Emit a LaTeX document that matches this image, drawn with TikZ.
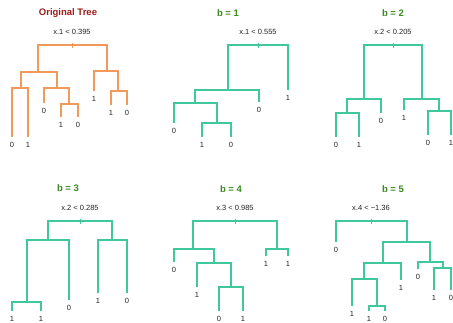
\documentclass[tikz,border=0pt]{standalone}
\usepackage{fontspec}
\setmainfont{Liberation Sans}
\usepackage{tikz}
\usetikzlibrary{positioning}
\definecolor{TreeOrange}{HTML}{F39A5A}
\definecolor{TreeGreen}{HTML}{3FC79E}
\definecolor{TitleRed}{HTML}{9E1B1B}
\definecolor{TitleGreen}{HTML}{3A8C1E}
\definecolor{LabelGray}{HTML}{222222}

\begin{document}
\begin{tikzpicture}[x=1pt, y=-1pt,
  branch/.style={line width=1.2pt, color=TreeGreen},
  orig/.style={branch, color=TreeOrange},
  title/.style={font=\fontsize{9.5}{11}\selectfont\bfseries, text=TitleGreen},
  split/.style={font=\fontsize{7.5}{9}\selectfont, text=LabelGray, inner sep=1pt},
  leaf/.style={font=\fontsize{7.5}{9}\selectfont, text=LabelGray,
               inner xsep=1pt, inner ysep=5pt},
  tick/.style={line width=0.8pt}
]
  \useasboundingbox (0,0) rectangle (453,323);

  % original tree
  \node[title, text=TitleRed] (t0) at (68,13) {Original Tree};
  \coordinate (o)    at (72,45);
  \coordinate (oL)   at (38,72);
  \coordinate (oR)   at (107,71);
  \coordinate (oLL)  at (21,88);
  \coordinate (oLR)  at (57,88);
  \coordinate (oLRR) at (69,104);
  \coordinate (oRR)  at (118,91);
  \node[leaf] (o1) at (12,145) {0};
  \node[leaf] (o2) at (28,145) {1};
  \node[leaf] (o3) at (44,111) {0};
  \node[leaf] (o4) at (61,125) {1};
  \node[leaf] (o5) at (78,125) {0};
  \node[leaf] (o6) at (94,99)  {1};
  \node[leaf] (o7) at (111,113) {1};
  \node[leaf] (o8) at (127,113) {0};
  \node[split, above=9pt of o] (s0) {x.1 < 0.395};
  \draw[orig] (oL) |- (o) -| (oR);
  \draw[orig] (oLL) |- (oL) -| (oLR);
  \draw[orig] (o1) |- (oLL) -| (o2);
  \draw[orig] (o3) |- (oLR) -| (oLRR);
  \draw[orig] (o4) |- (oLRR) -| (o5);
  \draw[orig] (o6) |- (oR) -| (oRR);
  \draw[orig] (o7) |- (oRR) -| (o8);
  \draw[orig, tick] (o) ++(0,-2) -- ++(0,5);

  % b = 1
  \node[title] (t1) at (228,13) {b = 1};
  \coordinate (a)    at (258,45);
  \coordinate (aL)   at (228,90);
  \coordinate (aLL)  at (195,103);
  \coordinate (aLLR) at (217,123);
  \node[leaf] (a1) at (174,131) {0};
  \node[leaf] (a2) at (202,145) {1};
  \node[leaf] (a3) at (231,145) {0};
  \node[leaf] (a4) at (259,110) {0};
  \node[leaf] (a5) at (288,98)  {1};
  \node[split, above=9pt of a] (s1) {x.1 < 0.555};
  \draw[branch] (aL) |- (a) -| (a5);
  \draw[branch] (aLL) |- (aL) -| (a4);
  \draw[branch] (a1) |- (aLL) -| (aLLR);
  \draw[branch] (a2) |- (aLLR) -| (a3);
  \draw[branch, tick] (a) ++(0,-2) -- ++(0,5);

  % b = 2
  \node[title] (t2) at (393,13) {b = 2};
  \coordinate (b)    at (393,45);
  \coordinate (bL)   at (364,99);
  \coordinate (bR)   at (422,99);
  \coordinate (bLL)  at (347,113);
  \coordinate (bRR)  at (439,111);
  \node[leaf] (b1) at (336,145) {0};
  \node[leaf] (b2) at (359,145) {1};
  \node[leaf] (b3) at (381,121) {0};
  \node[leaf] (b4) at (404,118) {1};
  \node[leaf] (b5) at (428,143) {0};
  \node[leaf] (b6) at (451,143) {1};
  \node[split, above=9pt of b] (s2) {x.2 < 0.205};
  \draw[branch] (bL) |- (b) -| (bR);
  \draw[branch] (bLL) |- (bL) -| (b3);
  \draw[branch] (b1) |- (bLL) -| (b2);
  \draw[branch] (b4) |- (bR) -| (bRR);
  \draw[branch] (b5) |- (bRR) -| (b6);
  \draw[branch, tick] (b) ++(0,-2) -- ++(0,5);

  % b = 3
  \node[title] (t3) at (68,188) {b = 3};
  \coordinate (c)    at (80,221);
  \coordinate (cL)   at (48,240);
  \coordinate (cR)   at (112,240);
  \coordinate (cLL)  at (27,302);
  \node[leaf] (c1) at (12,319) {1};
  \node[leaf] (c2) at (41,319) {1};
  \node[leaf] (c3) at (69,308) {0};
  \node[leaf] (c4) at (98,301) {1};
  \node[leaf] (c5) at (127,301) {0};
  \node[split, above=9pt of c] (s3) {x.2 < 0.285};
  \draw[branch] (cL) |- (c) -| (cR);
  \draw[branch] (cLL) |- (cL) -| (c3);
  \draw[branch] (c1) |- (cLL) -| (c2);
  \draw[branch] (c4) |- (cR) -| (c5);
  \draw[branch, tick] (c) ++(0,-2) -- ++(0,5);

  % b = 4
  \node[title] (t4) at (231,189) {b = 4};
  \coordinate (d)    at (235,221);
  \coordinate (dL)   at (193,249);
  \coordinate (dR)   at (277,249);
  \coordinate (dLR)  at (214,263);
  \coordinate (dLRR) at (231,287);
  \node[leaf] (d1) at (174,270) {0};
  \node[leaf] (d2) at (197,295) {1};
  \node[leaf] (d3) at (219,319) {0};
  \node[leaf] (d4) at (243,319) {1};
  \node[leaf] (d5) at (266,264) {1};
  \node[leaf] (d6) at (288,264) {1};
  \node[split, above=9pt of d] (s4) {x.3 < 0.985};
  \draw[branch] (dL) |- (d) -| (dR);
  \draw[branch] (d1) |- (dL) -| (dLR);
  \draw[branch] (d2) |- (dLR) -| (dLRR);
  \draw[branch] (d3) |- (dLRR) -| (d4);
  \draw[branch] (d5) |- (dR) -| (d6);
  \draw[branch, tick] (d) ++(0,-2) -- ++(0,5);

  % b = 5
  \node[title] (t5) at (393,189) {b = 5};
  \coordinate (e)     at (371,221);
  \coordinate (eR)    at (407,242);
  \coordinate (eRL)   at (383,263);
  \coordinate (eRR)   at (430,262);
  \coordinate (eRLL)  at (364,279);
  \coordinate (eRLLR) at (377,306);
  \coordinate (eRRR)  at (443,268);
  \node[leaf] (e1) at (336,250) {0};
  \node[leaf] (e2) at (352,314) {1};
  \node[leaf] (e3) at (369,319) {1};
  \node[leaf] (e4) at (385,319) {0};
  \node[leaf] (e5) at (401,288) {1};
  \node[leaf] (e6) at (418,277) {0};
  \node[leaf] (e7) at (434,298) {1};
  \node[leaf] (e8) at (451,298) {0};
  \node[split, above=9pt of e] (s5) {x.4 < −1.36};
  \draw[branch] (e1) |- (e) -| (eR);
  \draw[branch] (eRL) |- (eR) -| (eRR);
  \draw[branch] (eRLL) |- (eRL) -| (e5);
  \draw[branch] (e2) |- (eRLL) -| (eRLLR);
  \draw[branch] (e3) |- (eRLLR) -| (e4);
  \draw[branch] (e6) |- (eRR) -| (eRRR);
  \draw[branch] (e7) |- (eRRR) -| (e8);
  \draw[branch, tick] (e) ++(0,-2) -- ++(0,5);
\end{tikzpicture}
\end{document}
